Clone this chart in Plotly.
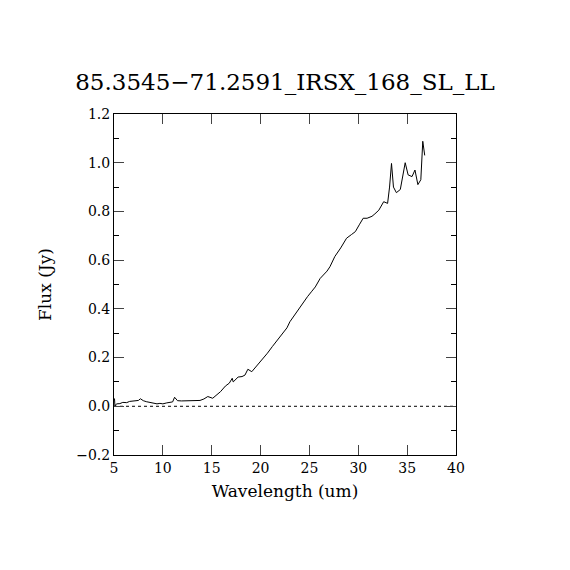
import plotly.graph_objects as go

# spectrum
wavelength = [
    5.05, 5.1, 5.15, 5.3, 5.6, 5.9, 6.3, 6.6, 6.9, 7.2, 7.5, 7.7, 8.0,
    8.3, 8.7, 9.0, 9.4, 9.7, 10.0, 10.4, 10.7, 11.0, 11.2, 11.5, 11.9,
    12.5, 13.0, 13.5, 13.8, 14.2, 14.6, 15.1, 15.5, 15.9, 16.4, 16.8,
    17.1, 17.2, 17.7, 18.1, 18.4, 18.7, 19.1, 19.6, 20.2, 20.7, 21.2,
    21.8, 22.3, 22.7, 23.0, 23.4, 23.8, 24.3, 24.8, 25.2, 25.6, 26.1,
    26.8, 27.1, 27.6, 28.2, 28.8, 29.3, 29.7, 30.1, 30.5, 30.9, 31.4,
    31.7, 32.1, 32.6, 33.0, 33.2, 33.4, 33.6, 33.9, 34.3, 34.4, 34.6,
    34.8, 35.1, 35.5, 35.8, 36.1, 36.4, 36.6, 36.8,
]
flux = [
    0.032, -0.002, 0.006, 0.010, 0.011, 0.016, 0.015, 0.020, 0.021, 0.025,
    0.024, 0.031, 0.023, 0.019, 0.015, 0.012, 0.010, 0.012, 0.010, 0.014,
    0.016, 0.018, 0.037, 0.023, 0.022, 0.023, 0.021, 0.022, 0.024, 0.030,
    0.040, 0.033, 0.048, 0.060, 0.083, 0.095, 0.115, 0.100, 0.120, 0.122,
    0.128, 0.152, 0.142, 0.165, 0.193, 0.218, 0.245, 0.275, 0.300, 0.322,
    0.347, 0.370, 0.395, 0.422, 0.450, 0.470, 0.490, 0.525, 0.555, 0.573,
    0.615, 0.650, 0.690, 0.705, 0.717, 0.745, 0.772, 0.772, 0.780, 0.790,
    0.805, 0.840, 0.833, 0.900, 0.997, 0.900, 0.877, 0.890, 0.910, 0.960,
    1.000, 0.950, 0.943, 0.970, 0.910, 0.930, 1.088, 1.030,
]
x_range = [5, 40]
y_range = [-0.2, 1.2]
title = "85.3545\u221271.2591_IRSX_168_SL_LL"

serif = "DejaVu Serif"

fig = go.Figure()
fig.add_trace(go.Scatter(
    x=wavelength, y=flux, mode="lines",
    line=dict(color="black", width=1),
    showlegend=False,
))
fig.add_trace(go.Scatter(
    x=x_range, y=[0, 0], mode="lines",
    line=dict(color="black", width=1, dash="dot"),
    showlegend=False,
))

# page body adds 8px, so margins are shifted to compensate
fig.update_layout(
    width=570, height=570,
    margin=dict(l=106, r=122, t=106, b=123),
    paper_bgcolor="white", plot_bgcolor="white",
    font=dict(family=serif, color="black", size=14),
    title=dict(text=title, x=0.5, xanchor="center", xref="paper",
               y=0.870, yanchor="middle",
               font=dict(family=serif, size=23)),
)
fig.update_xaxes(
    range=x_range, dtick=5, tick0=5, ticks="inside", ticklen=10,
    showline=True, linecolor="black", linewidth=1, mirror="ticks",
    showgrid=False, zeroline=False,
    title=dict(text="Wavelength (um)", standoff=10, font=dict(size=17)),
    tickfont=dict(size=14),
)
fig.update_yaxes(
    range=y_range, dtick=0.2, tick0=-0.2, tickformat=".1f",
    ticks="inside", ticklen=10,
    minor=dict(dtick=0.1, ticks="inside", ticklen=5, tickcolor="black", showgrid=False),
    showline=True, linecolor="black", linewidth=1, mirror="ticks",
    showgrid=False, zeroline=False,
    title=dict(text="Flux (Jy)", standoff=20, font=dict(size=17)),
    tickfont=dict(size=14),
)

fig.write_html("out.html")
